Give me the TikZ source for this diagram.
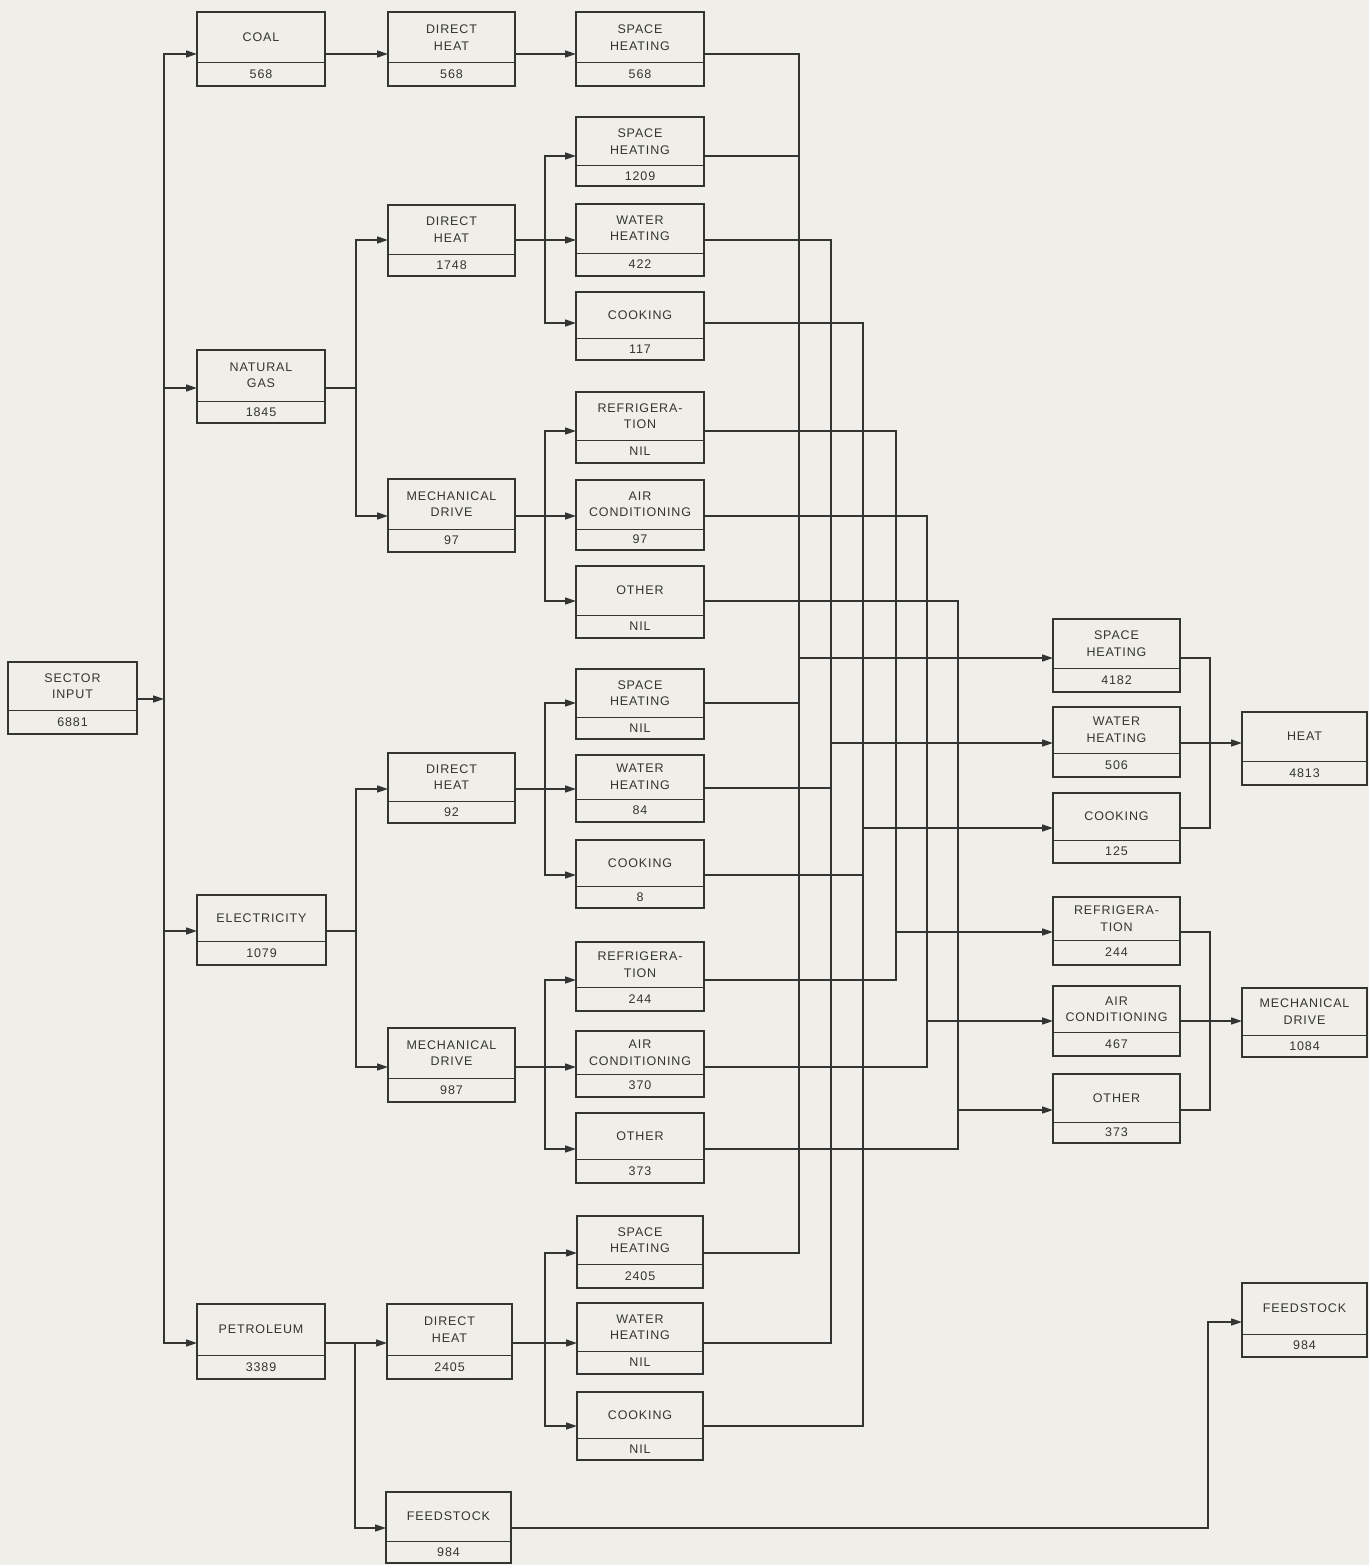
\documentclass[tikz,border=0pt]{standalone}
\usepackage{fontspec}
\newfontfamily\labfont[LetterSpace=7]{Liberation Sans}
\usetikzlibrary{arrows.meta}
\definecolor{ink}{RGB}{52,52,50}
\definecolor{paper}{RGB}{239,238,232}
\tikzset{
  box/.style={draw=ink, line width=1.2pt, inner sep=0pt, outer sep=0pt},
  divline/.style={draw=ink, line width=1pt},
  lbl/.style={font={\labfont\fontsize{12.5}{16.5}\selectfont}, align=center, inner sep=0pt, text=ink},
  wire/.style={draw=ink, line width=1.5pt, line cap=rect},
  arr/.style={draw=ink, line width=1.5pt, -{Triangle[length=11pt,width=7pt]}},
}
\newcommand\mybox[8]{%
  \node[box, minimum width={(#4)-(#2)}, minimum height={(#5)-(#3)}] (#1) at ({((#2)+(#4))/2},{((#3)+(#5))/2}) {};
  \draw[divline] (#2,#6) -- (#4,#6);
  \node[lbl] (#1t) at ({((#2)+(#4))/2},{((#3)+(#6))/2}) {#7};
  \node[lbl] (#1v) at ({((#2)+(#4))/2},{((#6)+(#5))/2}) {#8};
}
\newcommand\into[3]{\draw[arr] (#2,#3) -- (#1.west |- 0,#3);}
\newcommand\outof[3]{\draw[wire] (#1.east |- 0,#3) -- (#2,#3);}
\begin{document}
\begin{tikzpicture}[x=1pt,y=-1pt]
\fill[paper] (0,0) rectangle (1369,1565);
\useasboundingbox (0,0) rectangle (1369,1565);
% column 0 and 1
\mybox{sector}{8}{662}{137}{734}{710}{SECTOR\\INPUT}{6881}
\mybox{coal}{197}{12}{325}{86}{63}{COAL}{568}
\mybox{ng}{197}{350}{325}{423}{401}{NATURAL\\GAS}{1845}
\mybox{el}{197}{895}{326}{965}{941}{ELECTRICITY}{1079}
\mybox{pet}{197}{1304}{325}{1379}{1355}{PETROLEUM}{3389}
% column 2
\mybox{cdh}{388}{12}{515}{86}{63}{DIRECT\\HEAT}{568}
\mybox{ngdh}{388}{205}{515}{276}{254}{DIRECT\\HEAT}{1748}
\mybox{ngmd}{388}{479}{515}{552}{529}{MECHANICAL\\DRIVE}{97}
\mybox{eldh}{388}{753}{515}{823}{801}{DIRECT\\HEAT}{92}
\mybox{elmd}{388}{1028}{515}{1102}{1078}{MECHANICAL\\DRIVE}{987}
\mybox{petdh}{387}{1304}{512}{1379}{1355}{DIRECT\\HEAT}{2405}
\mybox{petfs}{386}{1492}{511}{1563}{1541}{FEEDSTOCK}{984}
% column 3
\mybox{csh}{576}{12}{704}{86}{63}{SPACE\\HEATING}{568}
\mybox{ngsh}{576}{117}{704}{186}{166}{SPACE\\HEATING}{1209}
\mybox{ngwh}{576}{204}{704}{276}{253}{WATER\\HEATING}{422}
\mybox{ngck}{576}{292}{704}{360}{338}{COOKING}{117}
\mybox{ngrf}{576}{392}{704}{463}{440}{REFRIGERA-\\TION}{NIL}
\mybox{ngac}{576}{480}{704}{550}{529}{AIR\\CONDITIONING}{97}
\mybox{ngot}{576}{566}{704}{638}{615}{OTHER}{NIL}
\mybox{elsh}{576}{669}{704}{739}{717}{SPACE\\HEATING}{NIL}
\mybox{elwh}{576}{755}{704}{822}{799}{WATER\\HEATING}{84}
\mybox{elck}{576}{840}{704}{908}{886}{COOKING}{8}
\mybox{elrf}{576}{942}{704}{1011}{987}{REFRIGERA-\\TION}{244}
\mybox{elac}{576}{1031}{704}{1097}{1074}{AIR\\CONDITIONING}{370}
\mybox{elot}{576}{1113}{704}{1183}{1159}{OTHER}{373}
\mybox{petsh}{577}{1216}{703}{1288}{1264}{SPACE\\HEATING}{2405}
\mybox{petwh}{577}{1303}{703}{1374}{1351}{WATER\\HEATING}{NIL}
\mybox{petck}{577}{1392}{703}{1460}{1438}{COOKING}{NIL}
% column 4
\mybox{rsh}{1053}{619}{1180}{692}{668}{SPACE\\HEATING}{4182}
\mybox{rwh}{1053}{707}{1180}{777}{753}{WATER\\HEATING}{506}
\mybox{rck}{1053}{793}{1180}{863}{840}{COOKING}{125}
\mybox{rrf}{1053}{897}{1180}{965}{940}{REFRIGERA-\\TION}{244}
\mybox{rac}{1053}{986}{1180}{1056}{1032}{AIR\\CONDITIONING}{467}
\mybox{rot}{1053}{1074}{1180}{1143}{1122}{OTHER}{373}
% column 5
\mybox{heat}{1242}{712}{1367}{785}{761}{HEAT}{4813}
\mybox{mech}{1242}{988}{1367}{1057}{1035}{MECHANICAL\\DRIVE}{1084}
\mybox{fs}{1242}{1283}{1367}{1357}{1334}{FEEDSTOCK}{984}
% sector bus
\draw[arr] (sector.east |- 0,699) -- (164,699);
\draw[wire] (164,54) -- (164,1343);
\into{coal}{164}{54}
\into{ng}{164}{388}
\into{el}{164}{931}
\into{pet}{164}{1343}
% coal chain
\draw[arr] (coal.east |- 0,54) -- (cdh.west |- 0,54);
\draw[arr] (cdh.east |- 0,54) -- (csh.west |- 0,54);
% natural gas
\outof{ng}{356}{388}
\draw[wire] (356,240) -- (356,516);
\into{ngdh}{356}{240}
\into{ngmd}{356}{516}
% electricity
\outof{el}{356}{931}
\draw[wire] (356,789) -- (356,1067);
\into{eldh}{356}{789}
\into{elmd}{356}{1067}
% petroleum
\draw[arr] (pet.east |- 0,1343) -- (petdh.west |- 0,1343);
\draw[wire] (355,1343) -- (355,1528);
\into{petfs}{355}{1528}
% column 2 -> 3
\outof{ngdh}{545}{240}
\draw[wire] (545,156) -- (545,323);
\into{ngsh}{545}{156}
\into{ngwh}{545}{240}
\into{ngck}{545}{323}
\outof{ngmd}{545}{516}
\draw[wire] (545,431) -- (545,601);
\into{ngrf}{545}{431}
\into{ngac}{545}{516}
\into{ngot}{545}{601}
\outof{eldh}{545}{789}
\draw[wire] (545,703) -- (545,875);
\into{elsh}{545}{703}
\into{elwh}{545}{789}
\into{elck}{545}{875}
\outof{elmd}{545}{1067}
\draw[wire] (545,980) -- (545,1149);
\into{elrf}{545}{980}
\into{elac}{545}{1067}
\into{elot}{545}{1149}
\outof{petdh}{545}{1343}
\draw[wire] (545,1253) -- (545,1426);
\into{petsh}{545}{1253}
\into{petwh}{545}{1343}
\into{petck}{545}{1426}
% collectors
\outof{csh}{799}{54}
\outof{ngsh}{799}{156}
\outof{elsh}{799}{703}
\outof{petsh}{799}{1253}
\draw[wire] (799,54) -- (799,1253);
\into{rsh}{799}{658}
\outof{ngwh}{831}{240}
\outof{elwh}{831}{788}
\outof{petwh}{831}{1343}
\draw[wire] (831,240) -- (831,1343);
\into{rwh}{831}{743}
\outof{ngck}{863}{323}
\outof{elck}{863}{875}
\outof{petck}{863}{1426}
\draw[wire] (863,323) -- (863,1426);
\into{rck}{863}{828}
\outof{ngrf}{896}{431}
\outof{elrf}{896}{980}
\draw[wire] (896,431) -- (896,980);
\into{rrf}{896}{932}
\outof{ngac}{927}{516}
\outof{elac}{927}{1067}
\draw[wire] (927,516) -- (927,1067);
\into{rac}{927}{1021}
\outof{ngot}{958}{601}
\outof{elot}{958}{1149}
\draw[wire] (958,601) -- (958,1149);
\into{rot}{958}{1110}
% heat
\draw[wire] (rsh.east |- 0,658) -- (1210,658) -- (1210,828) -- (rck.east |- 0,828);
\draw[arr] (rwh.east |- 0,743) -- (heat.west |- 0,743);
% mechanical drive
\draw[wire] (rrf.east |- 0,932) -- (1210,932) -- (1210,1110) -- (rot.east |- 0,1110);
\draw[arr] (rac.east |- 0,1021) -- (mech.west |- 0,1021);
% feedstock
\draw[arr] (petfs.east |- 0,1528) -- (1208,1528) -- (1208,1322) -- (fs.west |- 0,1322);
\end{tikzpicture}
\end{document}
